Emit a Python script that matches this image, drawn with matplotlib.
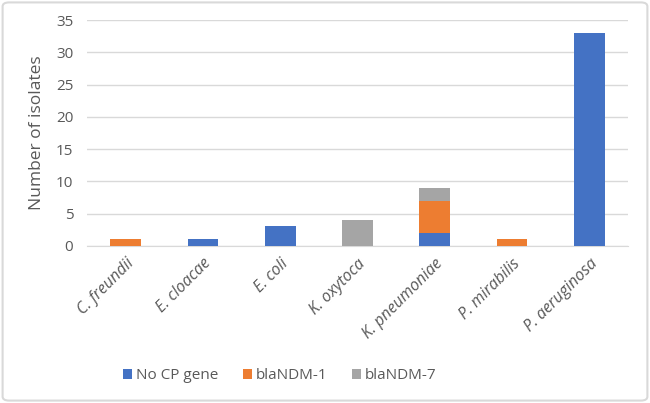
import matplotlib
matplotlib.use("Agg")
import matplotlib.pyplot as plt
from matplotlib.patches import FancyBboxPatch
import numpy as np

categories = ["C. freundii", "E. cloacae", "E. coli", "K. oxytoca",
              "K. pneumoniae", "P. mirabilis", "P. aeruginosa"]
no_cp = [0, 1, 3, 0, 2, 0, 33]
ndm1 = [1, 0, 0, 0, 5, 1, 0]
ndm7 = [0, 0, 0, 4, 2, 0, 0]
series_names = ["No CP gene", "blaNDM-1", "blaNDM-7"]
colors = ["#4472C4", "#ED7D31", "#A5A5A5"]
yticks = [0, 5, 10, 15, 20, 25, 30, 35]

plt.rcParams['font.family'] = ['Open Sans', 'DejaVu Sans']
txt = "#595959"

fig = plt.figure(figsize=(6.5, 4.03), dpi=100)
fig.patches.append(FancyBboxPatch((0.004, 0.006), 0.992, 0.988,
                                  boxstyle="round,pad=0,rounding_size=0.01",
                                  transform=fig.transFigure, fill=False,
                                  edgecolor="#D9D9D9", linewidth=1.5))
ax = fig.add_axes([0.134, 0.39, 0.832, 0.56])

x = np.arange(len(categories))
bottom = np.zeros(len(categories))
for vals, name, c in zip([no_cp, ndm1, ndm7], series_names, colors):
    ax.bar(x, vals, 0.4, bottom=bottom, color=c, label=name, zorder=3)
    bottom += np.array(vals)

ax.set_ylim(0, 35)
ax.set_xlim(-0.5, len(categories) - 0.5)
ax.set_yticks(yticks)
ax.yaxis.grid(True, color="#D9D9D9", linewidth=1, zorder=0)
ax.set_axisbelow(True)
for s in ["top", "right", "left"]:
    ax.spines[s].set_visible(False)
ax.spines["bottom"].set_color("#D9D9D9")
ax.tick_params(axis="both", length=0, colors=txt, labelsize=11)
ax.tick_params(axis="y", pad=10)
ax.set_xticks(x)
ax.set_xticklabels(categories, rotation=45, ha="right", rotation_mode="anchor",
                   style="italic", fontsize=11.5)
ax.tick_params(axis="x", pad=7)
ax.set_ylabel("Number of isolates", color=txt, fontsize=12.5, labelpad=8)

leg = fig.legend(loc="center", bbox_to_anchor=(0.43, 0.067), ncol=3, frameon=False,
                 fontsize=11, handlelength=0.6, handleheight=0.6, handletextpad=0.25,
                 columnspacing=1.6)
for t in leg.get_texts():
    t.set_color(txt)

fig.savefig("out.png", dpi=100)
